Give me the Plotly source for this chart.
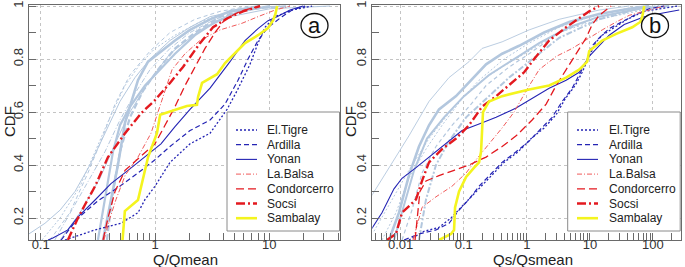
import plotly.graph_objects as go

W, H = 685, 267

stations = ["El.Tigre", "Ardilla", "Yonan", "La.Balsa", "Condorcerro", "Socsi", "Sambalay"]

# ---------------- Panel a : Q/Qmean ----------------
q_eltigre_x = [0.163, 0.299, 0.504, 0.71, 0.818, 1.0, 1.353, 2.024, 3.03, 4.266, 5.216, 6.776, 7.962, 9.166, 11.22, 15.81, 23.64]
q_eltigre_y = [0.117, 0.155, 0.18, 0.22, 0.27, 0.32, 0.41, 0.48, 0.52, 0.61, 0.68, 0.78, 0.86, 0.92, 0.96, 0.985, 1.0]
q_ardilla_x = [0.151, 0.212, 0.317, 0.474, 0.71, 1.0, 1.353, 2.024, 3.03, 4.096, 5.322, 6.511, 7.962, 9.743, 12.91, 15.81, 20.52]
q_ardilla_y = [0.117, 0.2, 0.265, 0.315, 0.37, 0.42, 0.47, 0.53, 0.57, 0.63, 0.72, 0.80, 0.87, 0.92, 0.96, 0.985, 1.0]
q_yonan_x = [0.116, 0.128, 0.173, 0.212, 0.299, 0.412, 0.581, 0.818, 1.128, 1.496, 2.024, 3.03, 4.531, 6.126, 7.962, 9.743, 11.67, 15.17, 19.72]
q_yonan_y = [0.117, 0.125, 0.155, 0.204, 0.268, 0.33, 0.38, 0.43, 0.48, 0.545, 0.61, 0.69, 0.79, 0.87, 0.915, 0.945, 0.96, 0.985, 1.0]
q_labalsa_x = [0.358, 0.404, 0.456, 0.547, 0.71, 0.923, 1.062, 1.223, 1.409, 1.83, 2.475, 3.703, 5.768, 7.962, 11.22, 15.17]
q_labalsa_y = [0.117, 0.2, 0.27, 0.36, 0.43, 0.52, 0.6, 0.68, 0.76, 0.82, 0.87, 0.91, 0.935, 0.96, 0.985, 1.0]
q_condor_x = [0.351, 0.388, 0.447, 0.547, 0.739, 1.0, 1.223, 1.496, 1.83, 2.239, 2.738, 3.35, 4.096, 5.543, 8.291]
q_condor_y = [0.117, 0.2, 0.3, 0.38, 0.43, 0.48, 0.55, 0.62, 0.70, 0.77, 0.84, 0.9, 0.95, 0.98, 1.0]
q_socsi_x = [0.173, 0.212, 0.244, 0.299, 0.388, 0.547, 0.754, 1.0, 1.353, 1.758, 2.475, 3.216, 4.353, 5.888, 8.291]
q_socsi_y = [0.117, 0.2, 0.25, 0.32, 0.43, 0.52, 0.595, 0.645, 0.71, 0.77, 0.86, 0.92, 0.955, 0.98, 1.0]
q_samb_x = [0.52, 0.54, 0.545, 0.71, 0.765, 0.87, 1.04, 1.11, 1.9, 2.33, 2.38, 2.58, 3.49, 4.1, 6.13, 7.96, 9.74, 10.8, 11.3, 11.7]
q_samb_y = [0.117, 0.2, 0.226, 0.268, 0.33, 0.43, 0.52, 0.59, 0.623, 0.627, 0.657, 0.71, 0.743, 0.785, 0.86, 0.89, 0.917, 0.947, 0.97, 1.0]

# other (unlabelled) stations, panel a
q_o1_x = [0.079, 0.109, 0.148, 0.1995, 0.27, 0.365, 0.494, 0.668, 0.904, 1.353, 2.024, 3.03, 5.543, 12.41]
q_o1_y = [0.14, 0.18, 0.23, 0.3, 0.4, 0.52, 0.64, 0.73, 0.8, 0.87, 0.92, 0.96, 0.985, 1.0]
q_o2_x = [0.1026, 0.148, 0.221, 0.299, 0.404, 0.547, 0.739, 1.0, 1.496, 2.475, 4.531, 8.291]
q_o2_y = [0.117, 0.2, 0.32, 0.45, 0.58, 0.7, 0.78, 0.84, 0.89, 0.94, 0.98, 1.0]
q_o3_x = [0.1206, 0.18, 0.259, 0.344, 0.447, 0.604, 0.904, 1.353, 2.239, 3.703, 6.776]
q_o3_y = [0.117, 0.22, 0.37, 0.5, 0.63, 0.74, 0.83, 0.9, 0.95, 0.98, 1.0]
q_o4_x = [0.133, 0.1995, 0.27, 0.365, 0.494, 0.668, 0.904, 1.353, 2.024, 3.35, 5.543, 12.41]
q_o4_y = [0.117, 0.25, 0.35, 0.45, 0.57, 0.67, 0.76, 0.84, 0.9, 0.95, 0.98, 1.0]
q_o5_x = [0.351, 0.404, 0.474, 0.547, 0.629, 0.71, 0.869, 1.128, 1.496, 2.024, 3.03, 4.531, 8.291]
q_o5_y = [0.117, 0.25, 0.4, 0.56, 0.65, 0.72, 0.79, 0.83, 0.87, 0.91, 0.95, 0.98, 1.0]
q_o6_x = [0.317, 0.373, 0.429, 0.494, 0.604, 0.818, 1.106, 1.496, 2.239, 3.35, 5.543, 10.14]
q_o6_y = [0.117, 0.3, 0.45, 0.55, 0.62, 0.7, 0.76, 0.82, 0.89, 0.94, 0.98, 1.0]
q_o7_x = [0.38, 0.429, 0.494, 0.604, 0.785, 1.062, 1.496, 2.239, 3.703, 6.776, 15.17]
q_o7_y = [0.117, 0.3, 0.45, 0.58, 0.68, 0.76, 0.84, 0.9, 0.96, 0.99, 1.0]
q_o8_x = [0.148, 0.221, 0.33, 0.447, 0.604, 0.904, 1.353, 2.475, 4.531, 10.14, 33.98]
q_o8_y = [0.117, 0.22, 0.35, 0.48, 0.6, 0.72, 0.82, 0.91, 0.96, 0.99, 1.0]

# ---------------- Panel b : Qs/Qsmean ----------------
qs_eltigre_x = [0.0135, 0.0234, 0.0405, 0.0629, 0.0906, 0.131, 0.188, 0.271, 0.436, 0.728, 1.17, 1.882, 2.918, 4.055, 5.844, 7.549, 9.75, 12.14, 15.69, 24.31, 39.08, 72.8, 125.9, 243]
qs_eltigre_y = [0.117, 0.15, 0.165, 0.2, 0.24, 0.28, 0.32, 0.36, 0.41, 0.45, 0.5, 0.54, 0.59, 0.65, 0.7, 0.75, 0.81, 0.86, 0.89, 0.92, 0.95, 0.98, 0.99, 1.0]
qs_ardilla_x = [0.0113, 0.0195, 0.0363, 0.0584, 0.0842, 0.121, 0.175, 0.252, 0.406, 0.676, 1.088, 1.567, 2.52, 3.634, 5.237, 6.766, 8.734, 10.88, 14.05, 20.25, 32.56, 50.5, 87.4, 151]
qs_ardilla_y = [0.117, 0.14, 0.155, 0.18, 0.23, 0.27, 0.32, 0.36, 0.41, 0.45, 0.49, 0.53, 0.58, 0.64, 0.69, 0.74, 0.79, 0.85, 0.88, 0.915, 0.94, 0.965, 0.99, 1.0]
qs_yonan_x = [0.00338, 0.00505, 0.00783, 0.0105, 0.0175, 0.0281, 0.0524, 0.094, 0.175, 0.326, 0.676, 1.088, 2.259, 4.206, 6.766, 9.75, 14.05, 20.25, 35.03, 72.8, 151, 261]
qs_yonan_y = [0.155, 0.22, 0.31, 0.35, 0.39, 0.43, 0.48, 0.53, 0.555, 0.58, 0.615, 0.645, 0.69, 0.72, 0.75, 0.81, 0.85, 0.89, 0.93, 0.96, 0.975, 0.985]
qs_labalsa_x = [0.0157, 0.0181, 0.0218, 0.0363, 0.0652, 0.109, 0.157, 0.252, 0.406, 0.629, 0.975, 1.567, 2.918, 5.237, 9.75, 15.69, 26.14, 42.07, 72.8, 151]
qs_labalsa_y = [0.117, 0.17, 0.24, 0.28, 0.32, 0.37, 0.42, 0.48, 0.54, 0.6, 0.68, 0.76, 0.81, 0.84, 0.88, 0.91, 0.94, 0.965, 0.98, 1.0]
qs_condor_x = [0.0169, 0.0181, 0.0202, 0.0252, 0.0405, 0.0702, 0.121, 0.226, 0.406, 0.676, 1.214, 2.024, 2.918, 4.206, 6.063, 8.734, 10.88, 14.05, 21.79]
qs_condor_y = [0.117, 0.2, 0.3, 0.34, 0.36, 0.38, 0.40, 0.43, 0.47, 0.51, 0.57, 0.63, 0.7, 0.76, 0.82, 0.88, 0.93, 0.965, 1.0]
qs_socsi_x = [0.00606, 0.00842, 0.0105, 0.0175, 0.0218, 0.0281, 0.0453, 0.0755, 0.121, 0.195, 0.326, 0.585, 0.906, 1.306, 2.259, 4.206, 6.766, 9.75, 14.05]
qs_socsi_y = [0.117, 0.14, 0.22, 0.27, 0.34, 0.41, 0.46, 0.5, 0.55, 0.62, 0.66, 0.71, 0.75, 0.8, 0.87, 0.92, 0.955, 0.98, 1.0]
qs_samb_x = [0.0405, 0.0629, 0.0702, 0.0728, 0.0842, 0.109, 0.146, 0.175, 0.188, 0.202, 0.252, 0.406, 1.088, 2.259, 4.206, 6.766, 9.061, 9.75, 15.69, 26.14, 46.94, 62.9, 67.7, 72.8]
qs_samb_y = [0.117, 0.14, 0.155, 0.24, 0.3, 0.355, 0.39, 0.41, 0.45, 0.6, 0.64, 0.66, 0.685, 0.70, 0.73, 0.76, 0.79, 0.83, 0.87, 0.895, 0.92, 0.94, 0.96, 1.0]

# other (unlabelled) stations, panel b
qs_o1_x = [0.00338, 0.00652, 0.0135, 0.0281, 0.0584, 0.121, 0.195, 0.406, 1.088, 3.257, 14.05, 42.07]
qs_o1_y = [0.28, 0.39, 0.51, 0.64, 0.73, 0.79, 0.84, 0.865, 0.91, 0.95, 0.985, 1.0]
qs_o2_x = [0.00652, 0.0094, 0.0135, 0.0195, 0.0281, 0.0405, 0.0755, 0.121, 0.226, 0.406, 0.755, 1.882, 4.693, 14.05, 42.07, 87.4]
qs_o2_y = [0.117, 0.22, 0.36, 0.47, 0.55, 0.61, 0.66, 0.71, 0.78, 0.82, 0.85, 0.9, 0.94, 0.97, 0.99, 1.0]
qs_o3_x = [0.0105, 0.0151, 0.0218, 0.0363, 0.0652, 0.121, 0.226, 0.524, 1.088, 3.257, 14.05, 60.6, 181]
qs_o3_y = [0.117, 0.23, 0.37, 0.47, 0.55, 0.62, 0.7, 0.77, 0.82, 0.9, 0.96, 0.99, 1.0]
qs_o4_x = [0.00505, 0.00842, 0.0135, 0.0252, 0.0453, 0.094, 0.195, 0.406, 1.088, 3.257, 14.05, 87.4, 261]
qs_o4_y = [0.117, 0.22, 0.35, 0.46, 0.55, 0.65, 0.72, 0.77, 0.83, 0.9, 0.95, 0.99, 1.0]
qs_o5_x = [0.0195, 0.0252, 0.0363, 0.0584, 0.109, 0.226, 0.524, 1.088, 3.257, 14.05, 60.6, 125.9]
qs_o5_y = [0.117, 0.27, 0.4, 0.49, 0.58, 0.65, 0.73, 0.79, 0.88, 0.95, 0.99, 1.0]
qs_o6_x = [0.00377, 0.00652, 0.0135, 0.0281, 0.0702, 0.175, 0.436, 1.088, 3.257, 14.05, 60.6]
qs_o6_y = [0.15, 0.25, 0.38, 0.5, 0.62, 0.72, 0.8, 0.86, 0.92, 0.97, 1.0]
qs_o7_x = [0.00783, 0.0113, 0.0163, 0.0261, 0.0487, 0.101, 0.252, 0.629, 1.567, 4.693, 14.05, 60.6, 181]
qs_o7_y = [0.117, 0.25, 0.38, 0.5, 0.58, 0.66, 0.74, 0.8, 0.86, 0.92, 0.96, 0.99, 1.0]

# tick labels
q_ticks = [0.1, 1, 10]
q_ticklabels = ["0.1", "1", "10"]
qs_ticks = [0.01, 0.1, 1, 10, 100]
qs_ticklabels = ["0.01", "0.1", "1", "10", "100"]
cdf_ticks = [0.2, 0.4, 0.6, 0.8, 1.0]
cdf_ticklabels = ["0.2", "0.4", "0.6", "0.8", "1"]
cdf_minor = [0.3, 0.5, 0.7, 0.9]

# ---------------- styles ----------------
BLUE = "#2424b4"
RED = "#e3191f"
LRED = "#f05a5a"
YEL = "#f4f41e"
GRAY = "#b3c7de"
style = {
    "El.Tigre": dict(color=BLUE, width=1.3, dash="2px,2px"),
    "Ardilla": dict(color=BLUE, width=1.2, dash="5px,3px"),
    "Yonan": dict(color=BLUE, width=1.1, dash="solid"),
    "La.Balsa": dict(color=LRED, width=1.0, dash="5px,2px,1px,2px"),
    "Condorcerro": dict(color=RED, width=1.3, dash="8px,4px"),
    "Socsi": dict(color=RED, width=2.4, dash="9px,3px,2px,3px"),
    "Sambalay": dict(color=YEL, width=2.6, dash="solid"),
}
other_style = [
    dict(width=1.0, dash="solid"), dict(width=1.0, dash="2px,2px"), dict(width=1.0, dash="4px,3px"),
    dict(width=1.0, dash="5px,2px,1px,2px"), dict(width=2.6, dash="solid"), dict(width=2.2, dash="solid"),
    dict(width=2.2, dash="6px,3px"), dict(width=1.0, dash="solid"),
]
other_style_b = [
    dict(width=0.9, dash="solid"), dict(width=2.6, dash="solid"), dict(width=1.2, dash="4px,3px"),
    dict(width=1.0, dash="2px,2px"), dict(width=2.0, dash="6px,2px,2px,2px"), dict(width=1.0, dash="2px,2px"),
    dict(width=2.0, dash="solid"),
]

panel_a = {
    "El.Tigre": (q_eltigre_x, q_eltigre_y), "Ardilla": (q_ardilla_x, q_ardilla_y),
    "Yonan": (q_yonan_x, q_yonan_y), "La.Balsa": (q_labalsa_x, q_labalsa_y),
    "Condorcerro": (q_condor_x, q_condor_y), "Socsi": (q_socsi_x, q_socsi_y),
    "Sambalay": (q_samb_x, q_samb_y),
}
panel_b = {
    "El.Tigre": (qs_eltigre_x, qs_eltigre_y), "Ardilla": (qs_ardilla_x, qs_ardilla_y),
    "Yonan": (qs_yonan_x, qs_yonan_y), "La.Balsa": (qs_labalsa_x, qs_labalsa_y),
    "Condorcerro": (qs_condor_x, qs_condor_y), "Socsi": (qs_socsi_x, qs_socsi_y),
    "Sambalay": (qs_samb_x, qs_samb_y),
}
others_a = [(q_o1_x, q_o1_y), (q_o2_x, q_o2_y), (q_o3_x, q_o3_y), (q_o4_x, q_o4_y),
            (q_o5_x, q_o5_y), (q_o6_x, q_o6_y), (q_o7_x, q_o7_y), (q_o8_x, q_o8_y)]
others_b = [(qs_o1_x, qs_o1_y), (qs_o2_x, qs_o2_y), (qs_o3_x, qs_o3_y), (qs_o4_x, qs_o4_y),
            (qs_o5_x, qs_o5_y), (qs_o6_x, qs_o6_y), (qs_o7_x, qs_o7_y)]

fig = go.Figure()

for (xs, ys), st in zip(others_a, other_style):
    fig.add_trace(go.Scatter(x=xs, y=ys, mode="lines", line=dict(color=GRAY, **st),
                             xaxis="x", yaxis="y", showlegend=False, hoverinfo="skip"))
for (xs, ys), st in zip(others_b, other_style_b):
    fig.add_trace(go.Scatter(x=xs, y=ys, mode="lines", line=dict(color=GRAY, **st),
                             xaxis="x2", yaxis="y2", showlegend=False, hoverinfo="skip"))
for name in stations:
    xs, ys = panel_a[name]
    fig.add_trace(go.Scatter(x=xs, y=ys, mode="lines", name=name, line=style[name],
                             xaxis="x", yaxis="y", showlegend=False))
    xs, ys = panel_b[name]
    fig.add_trace(go.Scatter(x=xs, y=ys, mode="lines", name=name, line=style[name],
                             xaxis="x2", yaxis="y2", showlegend=False))


def px(p):
    return p / W


def py(p):
    return 1 - p / H


def minor_log(lo, hi):
    vals = []
    d = lo
    while d < hi:
        for m in range(2, 10):
            vals.append(round(m * d, 6))
        d *= 10
    return vals


FONT = "Liberation Sans, Arial, sans-serif"
frame = "#6a6a6a"


def xaxis_cfg(domain, rng, ticks, labels, minors):
    return dict(type="log", domain=domain, range=rng, tickmode="array", tickvals=ticks, ticktext=labels,
                ticks="inside", ticklen=7, tickcolor=frame, tickwidth=1, ticklabelstandoff=-8,
                showgrid=True, gridcolor="#c4c4c4", griddash="dot", gridwidth=1,
                showline=True, linecolor=frame, linewidth=1, mirror=True, zeroline=False,
                minor=dict(tickmode="array", tickvals=minors, ticks="inside", ticklen=7,
                           tickcolor=frame, tickwidth=1, showgrid=False),
                tickfont=dict(size=13, color="#333", family=FONT), automargin=False, fixedrange=True)


def yaxis_cfg(anchor):
    return dict(domain=[py(240), py(5)], range=[0.117, 1.004], anchor=anchor,
                tickmode="array", tickvals=cdf_ticks, ticktext=cdf_ticklabels, tickangle=-90,
                ticks="inside", ticklen=7, tickcolor=frame, tickwidth=1,
                showgrid=True, gridcolor="#c4c4c4", griddash="dot", gridwidth=1,
                showline=True, linecolor=frame, linewidth=1, mirror=True, zeroline=False,
                minor=dict(tickmode="array", tickvals=cdf_minor, ticks="inside", ticklen=7,
                           tickcolor=frame, tickwidth=1, showgrid=False),
                tickfont=dict(size=13, color="#333", family=FONT), automargin=False, fixedrange=True)


fig.update_layout(
    width=W, height=H, margin=dict(l=0, r=0, t=0, b=0),
    paper_bgcolor="white", plot_bgcolor="white", showlegend=False,
    xaxis=dict(xaxis_cfg([px(29), px(340)], [-1.102, 1.618], q_ticks, q_ticklabels, minor_log(0.01, 100)), anchor="y"),
    xaxis2=dict(xaxis_cfg([px(372.3), px(680.7)], [-2.45, 2.44], qs_ticks, qs_ticklabels, minor_log(0.001, 1000)), anchor="y2"),
    yaxis=yaxis_cfg("x"),
    yaxis2=yaxis_cfg("x2"),
    font=dict(family=FONT),
)

# axis titles
for xc, txt in [(185, "Q/Qmean"), (533, "Qs/Qsmean")]:
    fig.add_annotation(text=txt, x=px(xc), y=py(259.5), xref="paper", yref="paper", showarrow=False,
                       xanchor="center", yanchor="middle", font=dict(size=15, color="#222", family=FONT))
for xc in [9, 350]:
    fig.add_annotation(text="CDF", x=px(xc), y=py(122), xref="paper", yref="paper", showarrow=False,
                       textangle=-90, xanchor="center", yanchor="middle", font=dict(size=15, color="#222", family=FONT))

# legends
for box0, box1, s0, s1, tx in [(227, 339.5, 236, 257, 265), (567.7, 680.2, 577, 598, 607)]:
    fig.add_shape(type="rect", xref="paper", yref="paper", x0=px(box0), x1=px(box1), y0=py(231), y1=py(112),
                  line=dict(color="#8a8a8a", width=1), fillcolor="white", layer="above")
    for i, name in enumerate(stations):
        yy = 130 + i * 14.7
        fig.add_shape(type="line", xref="paper", yref="paper", x0=px(s0), x1=px(s1), y0=py(yy), y1=py(yy),
                      line=style[name], layer="above")
        fig.add_annotation(text=name, x=px(tx), y=py(yy), xref="paper", yref="paper", showarrow=False,
                           xanchor="left", yanchor="middle", font=dict(size=12, color="#222", family=FONT))

# panel labels
for cx, lab in [(314.5, "a"), (655, "b")]:
    fig.add_shape(type="circle", xref="paper", yref="paper", x0=px(cx - 13.5), x1=px(cx + 13.5),
                  y0=py(37.5), y1=py(13.5), line=dict(color="#111", width=1.3), fillcolor="white", layer="above")
    fig.add_annotation(text=lab, x=px(cx), y=py(25), xref="paper", yref="paper", showarrow=False,
                       xanchor="center", yanchor="middle", font=dict(size=22, color="#111", family=FONT))

fig.write_html("out.html", config={"displayModeBar": False},
               post_script="document.body.style.margin='0';document.body.style.overflow='hidden';")
